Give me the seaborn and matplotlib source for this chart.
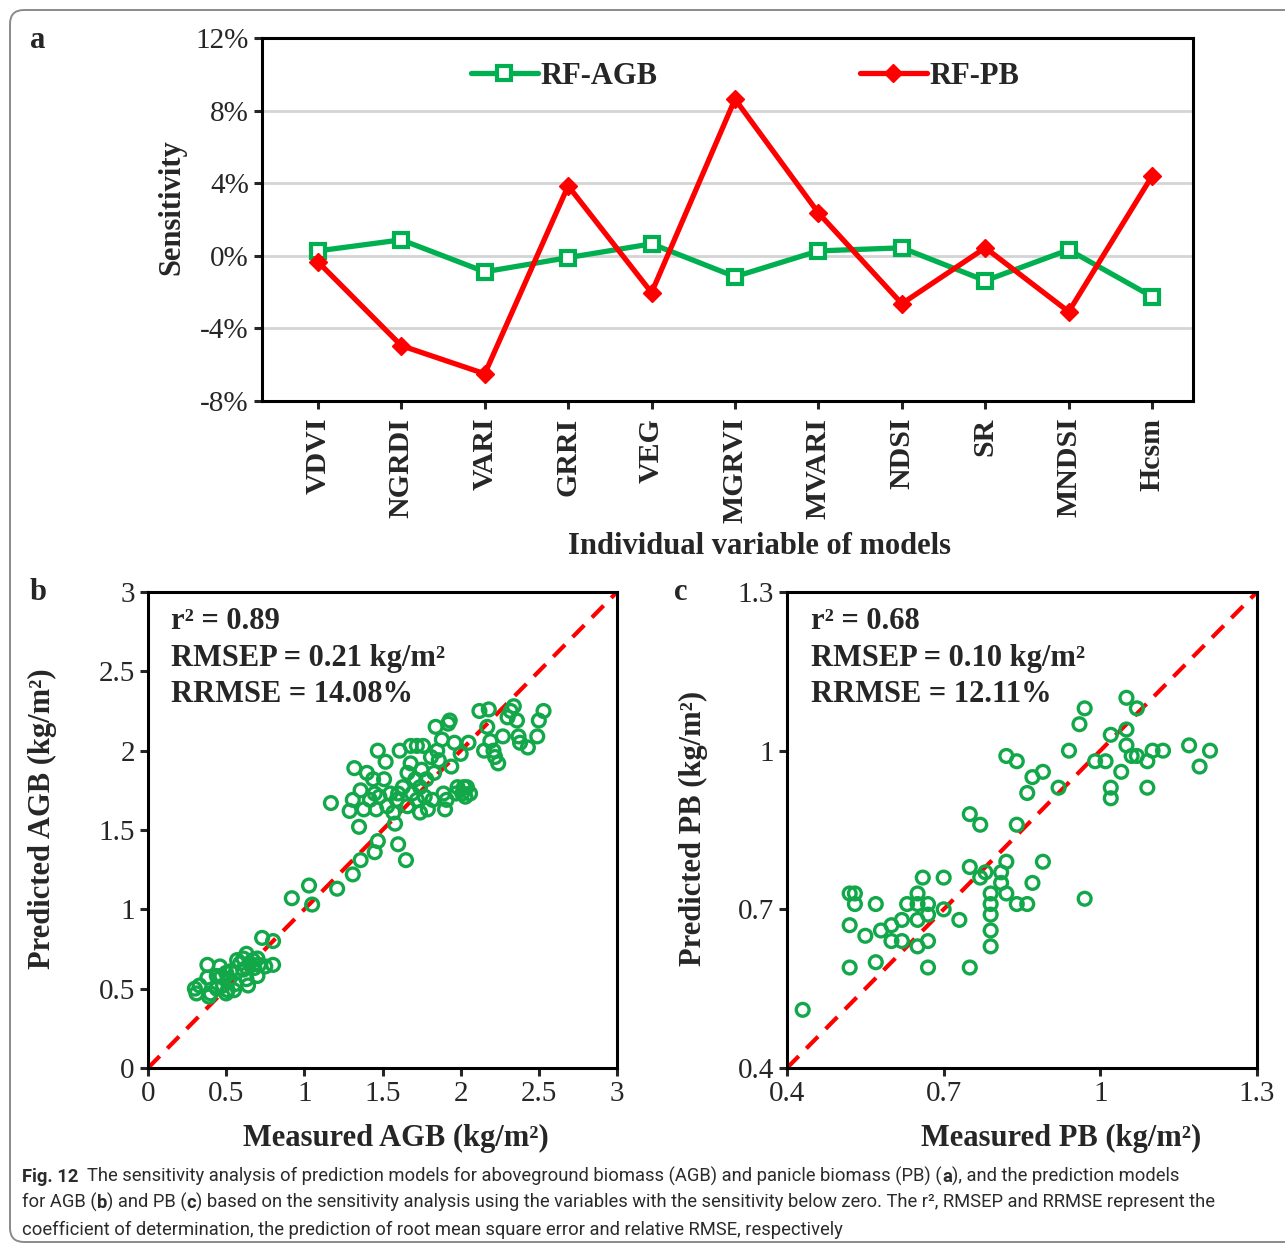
import numpy as np
import pandas as pd
import matplotlib
matplotlib.use("Agg")
import matplotlib.pyplot as plt
from matplotlib.patches import FancyBboxPatch
from matplotlib.transforms import IdentityTransform
import seaborn as sns

# ---------------- data ----------------
categories = ["VDVI", "NGRDI", "VARI", "GRRI", "VEG", "MGRVI", "MVARI",
              "NDSI", "SR", "MNDSI", "Hcsm"]
rf_agb = [0.27, 0.88, -0.88, -0.10, 0.66, -1.15, 0.27, 0.44, -1.37, 0.33, -2.25]
rf_pb = [-0.33, -4.95, -6.50, 3.85, -2.03, 8.63, 2.36, -2.64, 0.44, -3.08, 4.40]
a_yticks = [-8, -4, 0, 4, 8, 12]

agb_measured = [
    0.30, 0.31, 0.33, 0.38, 0.38, 0.39, 0.40, 0.44, 0.46, 0.47,
    0.48, 0.50, 0.51, 0.52, 0.53, 0.55, 0.56, 0.57, 0.59, 0.61,
    0.63, 0.63, 0.64, 0.65, 0.67, 0.68, 0.70, 0.71, 0.73, 0.75,
    0.80, 0.80, 0.70, 0.50, 0.44, 0.56, 0.61,
    0.92, 1.03, 1.05, 1.21, 1.31, 1.36, 1.45, 1.47, 1.60, 1.65,
    1.17, 1.29, 1.32, 1.31, 1.36, 1.35, 1.40, 1.38, 1.42, 1.44,
    1.45, 1.46, 1.47, 1.48, 1.52, 1.51, 1.53, 1.55, 1.57, 1.58,
    1.59, 1.61, 1.60, 1.63, 1.66, 1.66, 1.68, 1.68, 1.69, 1.71,
    1.72, 1.72, 1.74, 1.74, 1.75, 1.76, 1.77, 1.78, 1.79, 1.81,
    1.82, 1.83, 1.84, 1.85, 1.86, 1.88, 1.89, 1.90, 1.91, 1.92,
    1.93, 1.94, 1.96, 1.97, 1.98, 2.00, 2.01, 2.02, 2.03, 2.04,
    2.05, 2.06, 2.12, 2.15, 2.17, 2.18, 2.19, 2.21, 2.22, 2.24,
    2.27, 2.30, 2.32, 2.34, 2.36, 2.37, 2.38, 2.43, 2.49, 2.50,
    2.53]
agb_predicted = [
    0.50, 0.47, 0.52, 0.57, 0.65, 0.45, 0.47, 0.50, 0.64, 0.58,
    0.52, 0.47, 0.49, 0.56, 0.61, 0.49, 0.60, 0.68, 0.66, 0.62,
    0.72, 0.56, 0.52, 0.66, 0.68, 0.63, 0.58, 0.65, 0.82, 0.64,
    0.80, 0.65, 0.69, 0.60, 0.58, 0.53, 0.69,
    1.07, 1.15, 1.03, 1.13, 1.22, 1.31, 1.36, 1.43, 1.41, 1.31,
    1.67, 1.62, 1.89, 1.69, 1.75, 1.52, 1.86, 1.63, 1.69, 1.82,
    1.73, 1.63, 2.00, 1.71, 1.93, 1.82, 1.65, 1.73, 1.61, 1.54,
    1.69, 2.00, 1.73, 1.77, 1.86, 1.65, 2.03, 1.92, 1.73, 1.82,
    2.03, 1.69, 1.61, 1.77, 1.88, 2.03, 1.71, 1.82, 1.63, 1.96,
    1.69, 1.86, 2.15, 2.00, 1.94, 2.07, 1.73, 1.63, 1.69, 2.17,
    2.19, 1.90, 2.05, 1.73, 1.77, 1.98, 1.73, 1.77, 1.71, 1.77,
    2.05, 1.73, 2.25, 2.00, 2.15, 2.26, 2.06, 2.00, 1.96, 1.92,
    2.09, 2.21, 2.25, 2.28, 2.19, 2.09, 2.05, 2.02, 2.09, 2.19,
    2.25]

pb_measured = [
    0.43, 0.52, 0.53, 0.53, 0.52, 0.52, 0.55, 0.57, 0.57, 0.58,
    0.60, 0.60, 0.62, 0.62, 0.63, 0.65, 0.65, 0.65, 0.65, 0.66,
    0.67, 0.67, 0.67, 0.67, 0.70, 0.70, 0.73, 0.75, 0.75, 0.75,
    0.77, 0.77, 0.78, 0.79, 0.79, 0.79, 0.79, 0.79, 0.81, 0.81,
    0.82, 0.82, 0.84, 0.86, 0.87, 0.89, 0.82, 0.84, 0.84, 0.86,
    0.87, 0.89, 0.92, 0.94, 0.96, 0.97, 0.97, 0.99, 1.01, 1.02,
    1.02, 1.02, 1.04, 1.05, 1.05, 1.05, 1.06, 1.07, 1.07, 1.09,
    1.09, 1.10, 1.12, 1.17, 1.19, 1.21]
pb_predicted = [
    0.51, 0.73, 0.73, 0.71, 0.67, 0.59, 0.65, 0.71, 0.60, 0.66,
    0.67, 0.64, 0.68, 0.64, 0.71, 0.73, 0.71, 0.68, 0.63, 0.76,
    0.71, 0.69, 0.64, 0.59, 0.76, 0.70, 0.68, 0.78, 0.59, 0.88,
    0.86, 0.76, 0.77, 0.73, 0.71, 0.69, 0.66, 0.63, 0.77, 0.75,
    0.79, 0.73, 0.71, 0.71, 0.75, 0.79, 0.99, 0.98, 0.86, 0.92,
    0.95, 0.96, 0.93, 1.00, 1.05, 1.08, 0.72, 0.98, 0.98, 1.03,
    0.93, 0.91, 0.96, 1.10, 1.04, 1.01, 0.99, 1.08, 0.99, 0.98,
    0.93, 1.00, 1.00, 1.01, 0.97, 1.00]

b_ticks = [0, 0.5, 1, 1.5, 2, 2.5, 3]
b_ticklabels = ["0", "0.5", "1", "1.5", "2", "2.5", "3"]
c_ticks = [0.4, 0.7, 1.0, 1.3]
c_ticklabels = ["0.4", "0.7", "1", "1.3"]

# ---------------- style ----------------
W, H = 1285, 1246
sns.set_theme(style="ticks")
plt.rcParams["font.family"] = ["Liberation Serif", "DejaVu Serif"]
plt.rcParams["axes.linewidth"] = 2.2
plt.rcParams["xtick.major.width"] = 2.2
plt.rcParams["ytick.major.width"] = 2.2
plt.rcParams["xtick.major.size"] = 6
plt.rcParams["ytick.major.size"] = 6
plt.rcParams["xtick.direction"] = "out"
plt.rcParams["ytick.direction"] = "out"

GREEN_LINE = "#00B050"
GREEN_PT = "#12A84A"
RED = "#FF0000"
TICK_FS = 21
LAB_FS = 22

fig = plt.figure(figsize=(W / 100, H / 100), dpi=100)


def fx(px):
    return px / W


def fy(py):
    return 1 - py / H


def box(l, t, r, b):
    return [fx(l), fy(b), fx(r) - fx(l), fy(t) - fy(b)]


# ---------------- panel a ----------------
ax_a = fig.add_axes(box(262, 38, 1193, 401))
pos = np.arange(len(categories))
df_a = pd.DataFrame({"pos": pos, "agb": rf_agb, "pb": rf_pb})
sns.lineplot(data=df_a, x="pos", y="agb", ax=ax_a, color=GREEN_LINE, lw=3.8,
             marker="s", markersize=10, markerfacecolor="white",
             markeredgecolor=GREEN_LINE, markeredgewidth=3, label="RF-AGB",
             zorder=3)
sns.lineplot(data=df_a, x="pos", y="pb", ax=ax_a, color=RED, lw=3.8,
             marker="D", markersize=9, markerfacecolor=RED,
             markeredgecolor=RED, markeredgewidth=1, label="RF-PB", zorder=4)
ax_a.set_xlim(-0.67, 10.49)
ax_a.set_ylim(-8, 12)
ax_a.set_yticks(a_yticks)
ax_a.set_yticklabels([f"{v}%" for v in a_yticks], fontsize=TICK_FS)
ax_a.set_xticks(pos)
ax_a.set_xticklabels(categories, rotation=90, fontsize=21.5, fontweight="bold")
ax_a.yaxis.grid(True, color="#d4d4d4", lw=2)
ax_a.set_axisbelow(True)
ax_a.set_xlabel("")
ax_a.set_ylabel("")
for s in ax_a.spines.values():
    s.set_color("black")
ax_a.tick_params(axis="x", pad=6)
ax_a.legend(loc="center", bbox_to_anchor=(0.519, 0.895), ncol=2, frameon=False,
            prop={"size": 22, "weight": "bold"}, handlelength=2.2,
            handletextpad=0.1, columnspacing=6.6)

fig.text(fx(172), fy(207), "Sensitivity", rotation=90, ha="center", va="center",
         fontsize=LAB_FS, fontweight="bold")
fig.text(fx(760), fy(546), "Individual variable of models", ha="center",
         va="center", fontsize=LAB_FS, fontweight="bold")


# ---------------- scatter panels ----------------
def scatter_panel(rect, meas, pred, lo, hi, ticks, ticklabels, stats):
    ax = fig.add_axes(rect)
    df = pd.DataFrame({"m": meas, "p": pred})
    ax.plot([lo, hi], [lo, hi], color=RED, lw=3, dashes=(4, 2.6), zorder=2)
    sns.scatterplot(data=df, x="m", y="p", ax=ax, marker="o", s=85,
                    facecolor="none", edgecolor=GREEN_PT, linewidth=2.4,
                    zorder=3)
    ax.set_xlim(lo, hi)
    ax.set_ylim(lo, hi)
    ax.set_xticks(ticks)
    ax.set_xticklabels(ticklabels, fontsize=TICK_FS)
    ax.set_yticks(ticks)
    ax.set_yticklabels(ticklabels, fontsize=TICK_FS)
    ax.set_xlabel("")
    ax.set_ylabel("")
    for s in ax.spines.values():
        s.set_color("black")
    for i, line in enumerate(stats):
        ax.text(0.05, 0.937 - i * 0.0757, line, transform=ax.transAxes,
                fontsize=LAB_FS, fontweight="bold", ha="left", va="center")
    return ax


ax_b = scatter_panel(box(148, 592, 617, 1068), agb_measured, agb_predicted, 0, 3,
                     b_ticks, b_ticklabels,
                     ["r² = 0.89", "RMSEP = 0.21 kg/m²", "RRMSE = 14.08%"])
ax_c = scatter_panel(box(787, 592, 1257, 1068), pb_measured, pb_predicted, 0.4, 1.3,
                     c_ticks, c_ticklabels,
                     ["r² = 0.68", "RMSEP = 0.10 kg/m²", "RRMSE = 12.11%"])

fig.text(fx(42), fy(819), "Predicted AGB (kg/m²)", rotation=90, ha="center",
         va="center", fontsize=LAB_FS, fontweight="bold")
fig.text(fx(396), fy(1138), "Measured AGB (kg/m²)", ha="center", va="center",
         fontsize=LAB_FS, fontweight="bold")
fig.text(fx(693), fy(828), "Predicted PB (kg/m²)", rotation=90, ha="center",
         va="center", fontsize=LAB_FS, fontweight="bold")
fig.text(fx(1061), fy(1138), "Measured PB (kg/m²)", ha="center", va="center",
         fontsize=LAB_FS, fontweight="bold")

# panel letters
for letter, (px, py) in {"a": (38, 40), "b": (38, 592), "c": (681, 592)}.items():
    fig.text(fx(px), fy(py), letter, ha="center", va="center", fontsize=22,
             fontweight="bold")

# ---------------- caption ----------------
CAP_FAMILY = ["Roboto", "DejaVu Sans"]
CAP_COLOR = "#2b2b2b"
caption_lines = [
    (1182, [("Fig. 12", "bold"),
            ("  The sensitivity analysis of prediction models for aboveground biomass (AGB) and panicle biomass (PB) (", "normal"),
            ("a", "bold"), ("), and the prediction models", "normal")]),
    (1208, [("for AGB (", "normal"), ("b", "bold"), (") and PB (", "normal"),
            ("c", "bold"),
            (") based on the sensitivity analysis using the variables with the sensitivity below zero. The r²,"
             " RMSEP and RRMSE represent the", "normal")]),
    (1235, [("coefficient of determination, the prediction of root mean square error and relative RMSE, respectively",
             "normal")]),
]
renderer = fig.canvas.get_renderer()


def line_width(segs, size):
    total = 0
    for txt, wt in segs:
        t = fig.text(0, 0, txt, fontsize=size, fontweight=wt, family=CAP_FAMILY)
        total += t.get_window_extent(renderer).width
        t.remove()
    return total


# fit the longest caption line to the caption width of the reference (~1200 px)
trial = 14.0
widest = max(line_width(segs, trial) for _, segs in caption_lines[:2])
CAP_FS = min(14.5, trial * 1200 / widest)

for ypx, segs in caption_lines:
    x = 22
    for txt, wt in segs:
        t = fig.text(fx(x), fy(ypx), txt, ha="left", va="baseline",
                     fontsize=CAP_FS, fontweight=wt, family=CAP_FAMILY,
                     color=CAP_COLOR)
        x += t.get_window_extent(renderer).width

# outer rounded border
border = FancyBboxPatch((10, 4), 1320, 1232,
                        boxstyle="round,pad=0,rounding_size=14",
                        transform=IdentityTransform(), fill=False,
                        edgecolor="#8a8a8a", lw=1.4)
fig.patches.append(border)

fig.savefig("out.png", dpi=100)
